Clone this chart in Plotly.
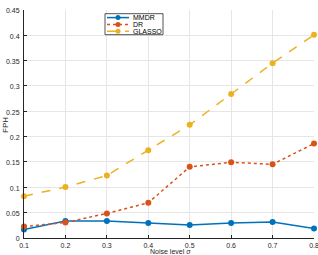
import plotly.graph_objects as go

noise = [0.1, 0.2, 0.3, 0.4, 0.5, 0.6, 0.7, 0.8]
mmdr = [0.016, 0.033, 0.033, 0.029, 0.025, 0.029, 0.031, 0.018]
dr = [0.022, 0.030, 0.048, 0.069, 0.140, 0.149, 0.145, 0.186]
glasso = [0.082, 0.100, 0.123, 0.173, 0.223, 0.284, 0.345, 0.401]
names = ["MMDR", "DR", "GLASSO"]
colors = ["#0072BD", "#D95319", "#EDB120"]
dashes = ["solid", "dot", "dash"]
yticks = [0, 0.05, 0.1, 0.15, 0.2, 0.25, 0.3, 0.35, 0.4, 0.45]
yticklabels = ["0", "0.05", "0.1", "0.15", "0.2", "0.25", "0.3", "0.35", "0.4", "0.45"]
xticks = noise

W, H = 318, 255
ml, mr, mt, mb = 24, 4, 10, 17
pw, ph = W - ml - mr, H - mt - mb

fig = go.Figure()
for name, ys, c, d in zip(names, [mmdr, dr, glasso], colors, dashes):
    fig.add_trace(go.Scatter(x=noise, y=ys, name=name, mode="lines+markers",
                             line=dict(color=c, width=1.5, dash=d),
                             marker=dict(color=c, size=6),
                             cliponaxis=False, showlegend=False))

font = dict(family="Liberation Sans, Arial, sans-serif", size=7, color="#262626")
axis_common = dict(showgrid=True, gridcolor="#e6e6e6", gridwidth=1,
                   showline=True, linecolor="#262626", linewidth=1,
                   ticks="inside", ticklen=3, tickcolor="#262626",
                   zeroline=False, tickfont=font, mirror=False,
                   ticklabeloverflow="allow")
eps = 1e-6
fig.update_xaxes(range=[0.1 - eps, 0.8 + eps], tickvals=xticks,
                 ticktext=[str(v) for v in xticks], ticklabelstandoff=1, **axis_common)
fig.update_yaxes(range=[-0.0006, 0.45 + eps], tickvals=yticks, ticktext=yticklabels,
                 ticklabelstandoff=2, ticklabelshift=1, **axis_common)

# custom legend (paper coords from pixels)
def px(x):
    return (x - ml) / pw
def py(y):
    return 1 - (y - mt) / ph

lx0, lx1, ly0, ly1 = 105, 163, 13.7, 34.7
shapes = [dict(type="rect", xref="paper", yref="paper", x0=px(lx0), x1=px(lx1),
               y0=py(ly1), y1=py(ly0), line=dict(color="#262626", width=0.8),
               fillcolor="white", layer="above")]
annotations = []
for i, (name, c, d) in enumerate(zip(names, colors, dashes)):
    yy = 17.6 + i * 6.8
    shapes.append(dict(type="line", xref="paper", yref="paper", x0=px(107), x1=px(129),
                       y0=py(yy), y1=py(yy), line=dict(color=c, width=1.5, dash=d), layer="above"))
    shapes.append(dict(type="circle", xref="paper", yref="paper", x0=px(115.5), x1=px(120.5),
                       y0=py(yy + 2.5), y1=py(yy - 2.5), line=dict(color=c, width=0),
                       fillcolor=c, layer="above"))
    annotations.append(dict(xref="paper", yref="paper", x=px(131), y=py(yy), text=name,
                            showarrow=False, xanchor="left", yanchor="middle",
                            font=dict(family=font["family"], size=7, color="#000000")))

annotations.append(dict(xref="paper", yref="paper", x=px(170), y=py(251), text="Noise level σ",
                        showarrow=False, xanchor="center", yanchor="middle",
                        font=dict(family=font["family"], size=7, color="#262626")))
annotations.append(dict(xref="paper", yref="paper", x=px(5), y=py(125), text="FPH",
                        showarrow=False, xanchor="center", yanchor="middle", textangle=-90,
                        font=dict(family=font["family"], size=8, color="#262626")))

fig.update_layout(width=W, height=H, margin=dict(l=ml, r=mr, t=mt, b=mb, autoexpand=False),
                  plot_bgcolor="white", paper_bgcolor="white", shapes=shapes,
                  annotations=annotations, font=font)

fig.write_html("out.html", config={"displayModeBar": False})
